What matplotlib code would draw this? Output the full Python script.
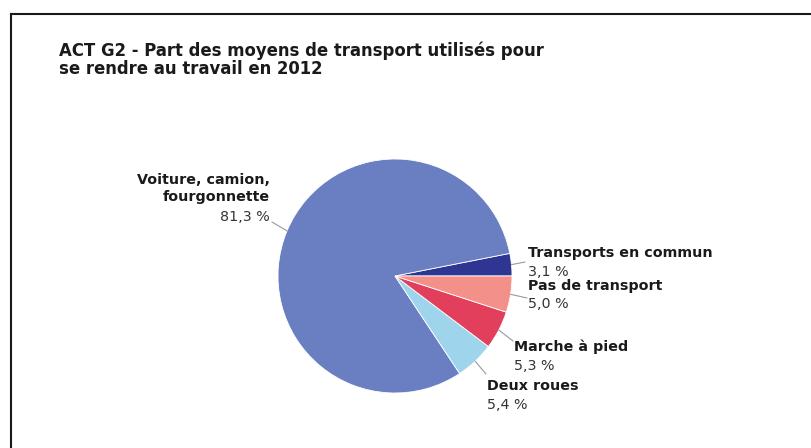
import math
import matplotlib.pyplot as plt
from matplotlib.lines import Line2D

# Part des moyens de transport (%), dans l'ordre de tracé
modes = ['Transports en commun', 'Voiture, camion,\nfourgonnette', 'Deux roues', 'Marche à pied', 'Pas de transport']
parts = [3.1, 81.3, 5.4, 5.3, 5.0]
parts_txt = ['3,1 %', '81,3 %', '5,4 %', '5,3 %', '5,0 %']
couleurs = ['#2e3592', '#6a7fc1', '#9ed5ec', '#e13f5b', '#f29089']

W, H = 812, 448
fig = plt.figure(figsize=(W / 100, H / 100), dpi=100)
fig.patch.set_facecolor('white')


def px(x, y):
    # pixels depuis le haut-gauche -> fraction de figure
    return x / W, 1 - y / H


# cadre (bords gauche et haut)
fig.add_artist(Line2D([11 / W, 1], [1 - 14 / H] * 2, color='#1a1a1a', lw=1.5))
fig.add_artist(Line2D([11 / W] * 2, [0, 1 - 14 / H], color='#1a1a1a', lw=1.5))

fig.text(*px(59, 42), 'ACT G2 - Part des moyens de transport utilisés pour\nse rendre au travail en 2012',
         ha='left', va='top', fontsize=11.9, fontweight='bold', color='#1a1a1a', linespacing=0.93)

# camembert : centre (395, 276), rayon 117 px
cx, cy, r = 395, 276, 117
ax = fig.add_axes([(cx - r) / W, (H - cy - r) / H, 2 * r / W, 2 * r / H])
wedges, _ = ax.pie(parts, colors=couleurs, startangle=0, counterclock=True, radius=1,
                   wedgeprops=dict(edgecolor='white', linewidth=0.6))
ax.set_xlim(-1, 1)
ax.set_ylim(-1, 1)
ax.axis('off')

# position des étiquettes : (x, y haut, alignement, fin du trait de rappel)
etiquettes = [
    (528, 246, 'left', (525, 262)),
    (270, 173, 'right', (272, 222)),
    (487, 379, 'left', (486, 374)),
    (514, 340, 'left', (513, 341)),
    (528, 279, 'left', (527, 298)),
]

for w, nom, val, (lx, ly, ha, fin) in zip(wedges, modes, parts_txt, etiquettes):
    a = math.radians((w.theta1 + w.theta2) / 2)
    bord = (math.cos(a), math.sin(a))
    ax.annotate('', xy=bord, xytext=(fin[0], H - fin[1]), textcoords='figure pixels',
                arrowprops=dict(arrowstyle='-', color='#9a9a9a', lw=0.8, shrinkA=0, shrinkB=0),
                annotation_clip=False)
    n_lignes = nom.count('\n') + 1
    fig.text(*px(lx, ly), nom, ha=ha, va='top', fontsize=10.3, fontweight='bold',
             color='#1a1a1a', linespacing=1.28, multialignment=ha)
    fig.text(*px(lx, ly + 18.5 * n_lignes), val, ha=ha, va='top', fontsize=10.3, color='#333333')

fig.savefig('out.png', dpi=100)
